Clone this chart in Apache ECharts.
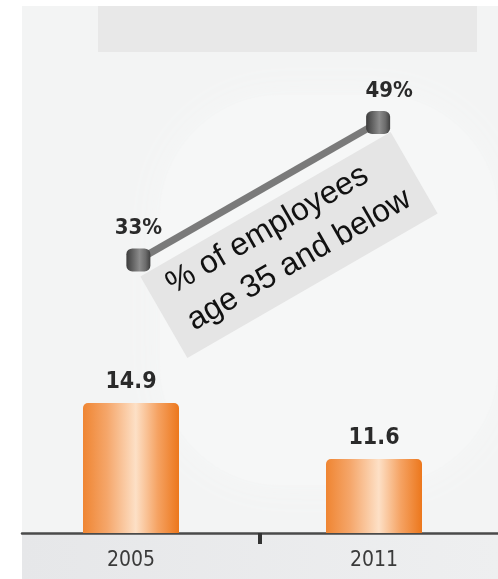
<!DOCTYPE html>
<html>
<head>
<meta charset="utf-8">
<script src="https://cdn.jsdelivr.net/npm/echarts@6/dist/echarts.min.js"></script>
<style>
  html, body { margin: 0; padding: 0; background: #ffffff; }
  #chart { width: 498px; height: 579px; }
</style>
</head>
<body>
<div id="chart"></div>
<script>
// ---- data ----
const years = ['2005', '2011'];
const barValues = [14.9, 11.6];
const youngSharePct = [33, 49];
const boxLines = ['% of employees', 'age 35 and below'];

const chart = echarts.init(document.getElementById('chart'), null, { renderer: 'canvas' });

const barGradient = new echarts.graphic.LinearGradient(0, 0, 1, 0, [
  { offset: 0, color: '#ef8532' },
  { offset: 0.25, color: '#f5a66a' },
  { offset: 0.55, color: '#fde0c6' },
  { offset: 0.78, color: '#f5a262' },
  { offset: 1, color: '#ec771c' }
]);
const markerGradient = new echarts.graphic.LinearGradient(0, 0, 1, 0, [
  { offset: 0, color: '#3c3c3c' },
  { offset: 0.55, color: '#8c8c8c' },
  { offset: 0.8, color: '#6c6c6c' },
  { offset: 1, color: '#3f3f3f' }
]);

const option = {
  animation: false,
  graphic: [
    { type: 'rect', z: -20, silent: true, shape: { x: 22, y: 6, width: 476, height: 573 }, style: { fill: '#f3f4f4' } },
    { type: 'rect', z: -19, silent: true, shape: { x: 160, y: 95, width: 338, height: 390, r: 120 }, style: { fill: '#f6f7f7', shadowBlur: 40, shadowColor: '#f6f7f7' } },
    { type: 'rect', z: -18, silent: true, shape: { x: 22, y: 533, width: 476, height: 46 },
      style: { fill: new echarts.graphic.LinearGradient(0, 0, 1, 0, [{ offset: 0, color: '#e6e7e9' }, { offset: 1, color: '#eeeff0' }]) } },
    { type: 'rect', z: -17, silent: true, shape: { x: 98, y: 6, width: 379, height: 46 }, style: { fill: '#e8e8e8' } },
    {
      type: 'group', x: 289, y: 245, rotation: Math.PI / 6, z: 20,
      children: [
        { type: 'rect', z: 20, shape: { x: -144.5, y: -47, width: 289, height: 94 }, style: { fill: '#e5e5e5' } },
        { type: 'text', z: 21, x: -125, y: -24, style: { text: boxLines[0], fill: '#111', font: '32px "Liberation Sans", Arial, sans-serif', align: 'left', verticalAlign: 'middle' } },
        { type: 'text', z: 21, x: -125, y: 18, style: { text: boxLines[1], fill: '#111', font: '32px "Liberation Sans", Arial, sans-serif', align: 'left', verticalAlign: 'middle' } }
      ]
    }
  ],
  grid: [
    { left: 9.5, top: 28, width: 486, height: 505 },
    { left: 18.5, top: 28, width: 480, height: 505 },
    { left: 22, top: 28, width: 484, height: 505 }
  ],
  xAxis: [
    {
      type: 'category', gridIndex: 0, data: years,
      axisLine: { show: false }, axisTick: { show: false },
      axisLabel: { margin: 17, color: '#3a3a3a', fontSize: 21, fontFamily: '"DejaVu Sans Condensed", "DejaVu Sans", sans-serif' }
    },
    { type: 'category', gridIndex: 1, data: years, show: false },
    {
      type: 'value', gridIndex: 2, min: 0, max: 2,
      axisLabel: { show: false }, splitLine: { show: false },
      axisLine: { show: true, lineStyle: { color: '#4a4a4a', width: 2.5 } },
      axisTick: { show: true, customValues: [1], length: 11, lineStyle: { color: '#333', width: 4 } }
    }
  ],
  yAxis: [
    { type: 'value', gridIndex: 0, min: 7.24, max: 37, show: false },
    { type: 'value', gridIndex: 1, min: 1.2, max: 60, show: false },
    { type: 'value', gridIndex: 2, min: 0, max: 1, show: false }
  ],
  series: [
    {
      type: 'bar', xAxisIndex: 0, yAxisIndex: 0, data: barValues, barWidth: 96,
      itemStyle: { color: barGradient, borderRadius: [5, 5, 0, 0] },
      label: { show: true, position: 'top', distance: 9, color: '#2a2a2a', fontSize: 23, fontWeight: 'bold',
        fontFamily: '"DejaVu Sans Condensed", "DejaVu Sans", sans-serif' }
    },
    {
      type: 'line', xAxisIndex: 1, yAxisIndex: 1,
      data: youngSharePct.map((v, i) => ({ value: v, label: i === 1 ? { offset: [11, 0] } : {} })),
      symbol: 'roundRect', symbolSize: [24, 23],
      lineStyle: { color: '#7a7a7a', width: 7 },
      itemStyle: { color: markerGradient },
      label: { show: true, position: 'top', distance: 9, formatter: '{c}%', color: '#2a2a2a', fontSize: 22, fontWeight: 'bold',
        fontFamily: '"DejaVu Sans Condensed", "DejaVu Sans", sans-serif' },
      z: 5
    }
  ]
};
chart.setOption(option);
</script>
</body>
</html>
